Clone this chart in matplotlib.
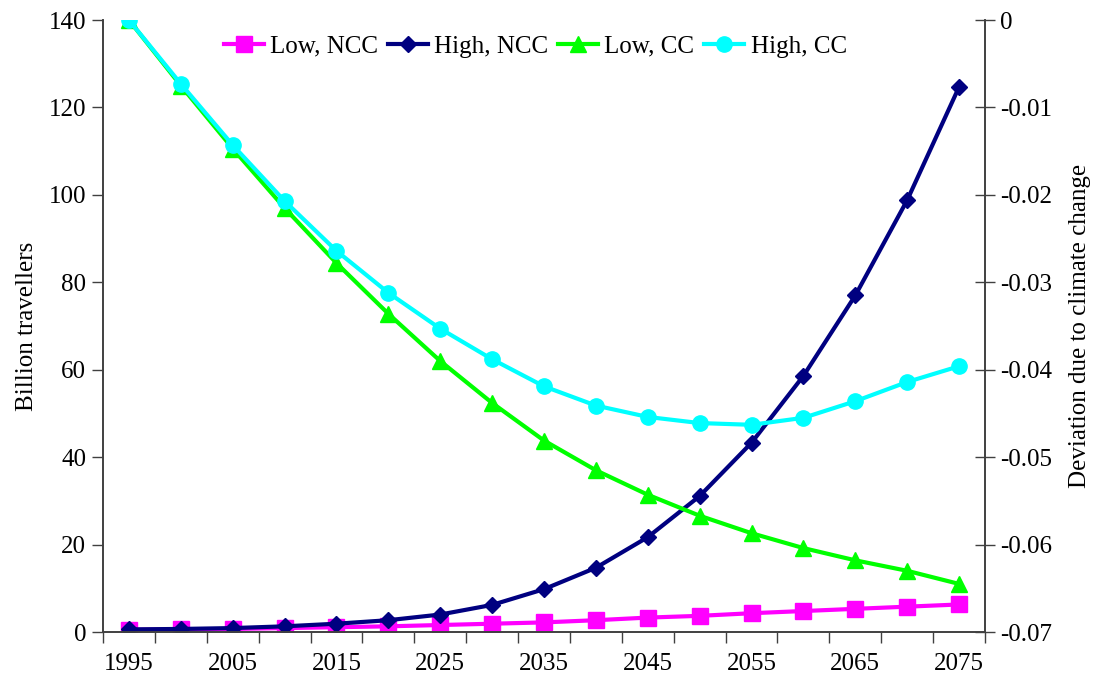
import numpy as np
import matplotlib
matplotlib.use("Agg")
import matplotlib.pyplot as plt

plt.rcParams['font.family'] = ['Liberation Serif', 'DejaVu Serif']

years = [1995, 2000, 2005, 2010, 2015, 2020, 2025, 2030, 2035,
         2040, 2045, 2050, 2055, 2060, 2065, 2070, 2075]
year_labels = ['1995', '2005', '2015', '2025', '2035', '2045', '2055', '2065', '2075']

# billion travellers (left axis)
low_ncc = [0.5, 0.6, 0.7, 0.9, 1.1, 1.3, 1.6, 1.9, 2.2,
           2.7, 3.3, 3.7, 4.3, 4.8, 5.3, 5.8, 6.3]
high_ncc = [0.6, 0.7, 0.9, 1.3, 1.9, 2.7, 4.0, 6.2, 9.8,
            14.7, 21.7, 31.1, 43.3, 58.6, 77.0, 98.8, 124.7]

# deviation due to climate change (right axis)
low_cc = [0.0, -0.0075, -0.0147, -0.0215, -0.0278, -0.0336, -0.0390, -0.0438, -0.0481,
          -0.0515, -0.0543, -0.0567, -0.0587, -0.0604, -0.0618, -0.0630, -0.0645]
high_cc = [0.0, -0.0073, -0.0143, -0.0207, -0.0264, -0.0312, -0.0353, -0.0388, -0.0419,
           -0.0441, -0.0454, -0.0461, -0.0463, -0.0455, -0.0436, -0.0414, -0.0396]

fs = 18
x = np.arange(len(years))

fig = plt.figure(figsize=(10.99, 6.86), dpi=100)
ax = fig.add_axes([0.0937, 0.0787, 0.8026, 0.8921])
ax2 = ax.twinx()

l1, = ax.plot(x, low_ncc, color='#ff00ff', lw=3, marker='s', ms=11, label='Low, NCC')
l2, = ax.plot(x, high_ncc, color='#000080', lw=3, marker='D', ms=8, label='High, NCC')
l3, = ax2.plot(x, low_cc, color='#00ff00', lw=3, marker='^', ms=12, label='Low, CC')
l4, = ax2.plot(x, high_cc, color='#00ffff', lw=3, marker='o', ms=11, label='High, CC')

ax.set_xlim(-0.5, len(years) - 0.5)
ax.set_ylim(0, 140)
ax.set_yticks(np.arange(0, 141, 20))
ax2.set_ylim(-0.07, 0)
ax2.set_yticks(np.arange(-0.07, 0.001, 0.01))
ax2.set_yticklabels(['-0.07', '-0.06', '-0.05', '-0.04', '-0.03', '-0.02', '-0.01', '0'])

# category boundaries get tick marks, every other category gets a label
ax.set_xticks(np.arange(-0.5, len(years), 1))
ax.set_xticklabels([])
ax.set_xticks(x[::2], minor=True)
ax.set_xticklabels(year_labels, minor=True)
ax.tick_params(axis='x', which='major', direction='out', length=8, width=1, color='#404040')
ax.tick_params(axis='x', which='minor', length=0, labelsize=fs, pad=15)
ax.tick_params(axis='y', direction='out', length=8, width=1, color='#404040', labelsize=fs, pad=4)
ax2.tick_params(axis='y', direction='inout', length=14, width=1, color='#404040', labelsize=fs, pad=4)

for a in (ax, ax2):
    a.spines['top'].set_visible(False)
    for s in ('left', 'right', 'bottom'):
        a.spines[s].set_color('#404040')
        a.spines[s].set_linewidth(1.2)

ax.set_ylabel('Billion travellers', fontsize=fs, labelpad=8)
ax2.set_ylabel('Deviation due to climate change', fontsize=fs, labelpad=12)

ax2.legend(handles=[l1, l2, l3, l4], loc='upper center', bbox_to_anchor=(0.49, 1.0),
           ncol=4, frameon=False, fontsize=fs, handlelength=1.6, handletextpad=0.25,
           columnspacing=0.4, borderaxespad=0.2)

fig.savefig('out.png', dpi=100)
